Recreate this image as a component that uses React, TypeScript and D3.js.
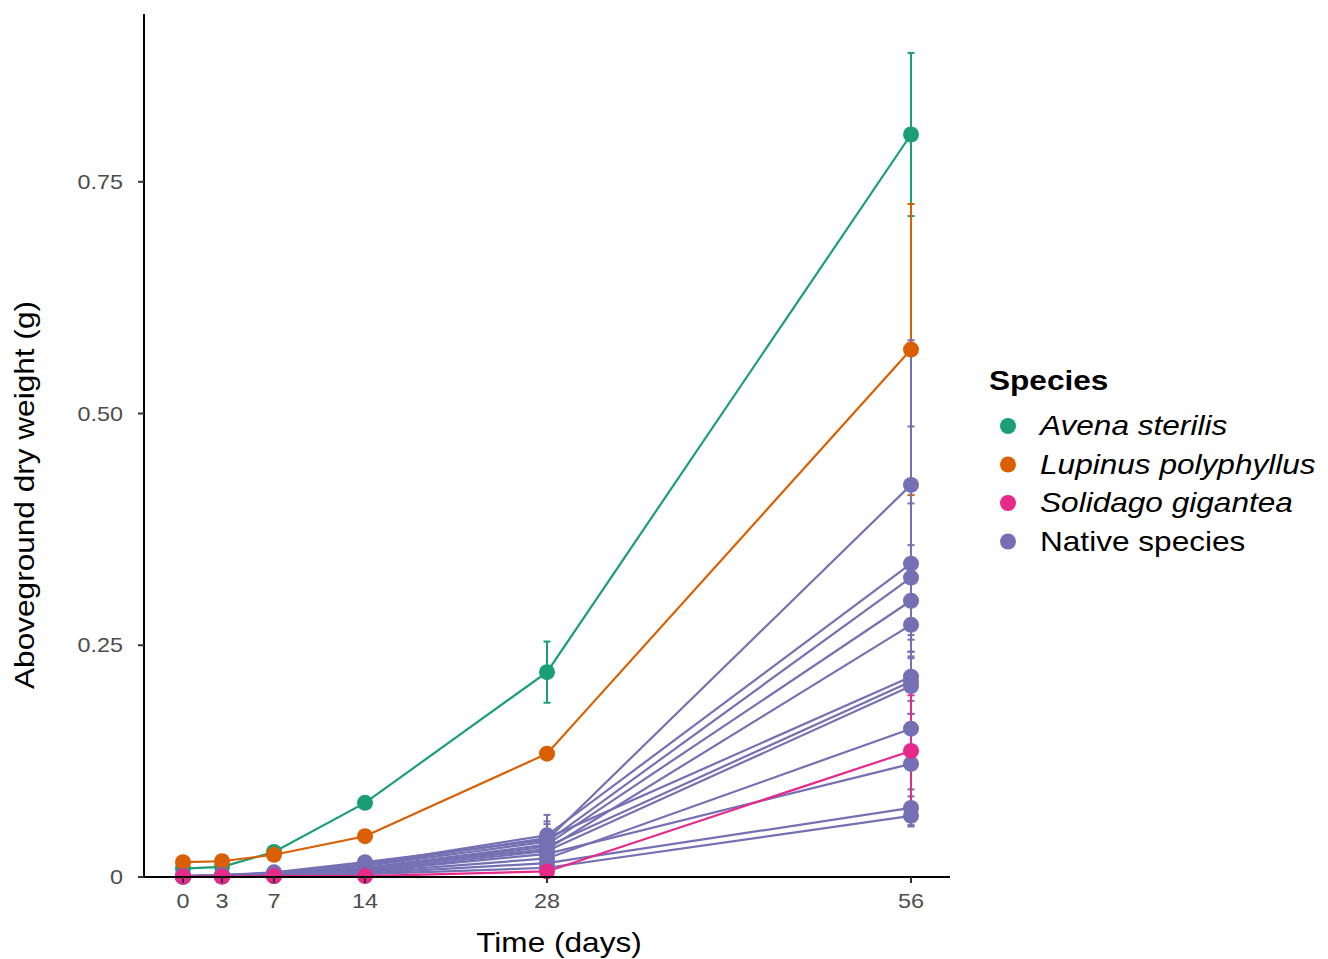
import React, { useEffect } from "react";
import * as d3 from "d3";

const days = [0, 3, 7, 14, 28, 56];
const yTicks = [0, 0.25, 0.5, 0.75];
const yTickLabels = ["0", "0.25", "0.50", "0.75"];

const avena = [0.009, 0.011, 0.027, 0.08, 0.221, 0.801];
const avenaSe = [0.001, 0.001, 0.002, 0.004, 0.033, 0.088];
const lupinus = [0.016, 0.017, 0.024, 0.044, 0.133, 0.569];
const lupinusSe = [0.001, 0.001, 0.002, 0.003, 0.006, 0.157];
const solidago = [0.0005, 0.0005, 0.001, 0.001, 0.006, 0.136];
const solidagoSe = [0.0002, 0.0002, 0.0003, 0.0004, 0.002, 0.06];

// native species: one row per species, values for each day
const native = [
  [0.001, 0.002, 0.005, 0.016, 0.04, 0.423],
  [0.001, 0.002, 0.004, 0.014, 0.045, 0.338],
  [0.001, 0.001, 0.004, 0.012, 0.038, 0.323],
  [0.001, 0.001, 0.003, 0.01, 0.035, 0.298],
  [0.001, 0.001, 0.003, 0.009, 0.03, 0.272],
  [0.001, 0.002, 0.004, 0.013, 0.042, 0.216],
  [0.0005, 0.001, 0.002, 0.008, 0.033, 0.211],
  [0.0005, 0.001, 0.002, 0.007, 0.028, 0.206],
  [0.0005, 0.001, 0.002, 0.005, 0.02, 0.16],
  [0.0005, 0.001, 0.002, 0.006, 0.025, 0.122],
  [0.0003, 0.0005, 0.001, 0.004, 0.015, 0.0745],
  [0.0003, 0.0005, 0.001, 0.003, 0.01, 0.066],
];
const nativeSe = [
  [0, 0.0003, 0.001, 0.002, 0.02, 0.156],
  [0, 0.0003, 0.001, 0.002, 0.022, 0.148],
  [0, 0.0003, 0.001, 0.002, 0.012, 0.08],
  [0, 0.0003, 0.001, 0.002, 0.01, 0.06],
  [0, 0.0003, 0.001, 0.002, 0.008, 0.029],
  [0, 0.0003, 0.001, 0.002, 0.015, 0.04],
  [0, 0.0003, 0.001, 0.002, 0.008, 0.05],
  [0, 0.0003, 0.001, 0.002, 0.006, 0.03],
  [0, 0.0003, 0.001, 0.001, 0.005, 0.04],
  [0, 0.0003, 0.001, 0.001, 0.006, 0.035],
  [0, 0.0003, 0.001, 0.001, 0.004, 0.02],
  [0, 0.0003, 0.001, 0.001, 0.003, 0.01],
];

const legendNames = ["Avena sterilis", "Lupinus polyphyllus", "Solidago gigantea", "Native species"];
const legendColors = ["#1B9E77", "#D95F02", "#E7298A", "#7570B3"];

type Series = { values: number[]; se: number[]; color: string };

const SX = 1.17; // text in the reference is a bit wider than Liberation Sans

export default function App() {
  useEffect(() => {
    document.body.style.margin = "0";
  }, []);

  const width = 1328;
  const height = 959;
  const x = d3.scaleLinear().domain([-3, 59]).range([144, 950]);
  const y = d3.scaleLinear().domain([0, 0.931]).range([877, 14]);
  const line = d3
    .line<number>()
    .x((_, i) => x(days[i]))
    .y((d) => y(d));

  const series: Series[] = [
    { values: avena, se: avenaSe, color: legendColors[0] },
    { values: lupinus, se: lupinusSe, color: legendColors[1] },
    ...native.map((v, i) => ({ values: v, se: nativeSe[i], color: legendColors[3] })),
    { values: solidago, se: solidagoSe, color: legendColors[2] },
  ];

  const font = "Liberation Sans, Arial, sans-serif";

  return (
    <svg width={width} height={height} style={{ display: "block", background: "#fff" }} fontFamily={font}>
      {/* lines */}
      {series.map((s, k) => (
        <path key={"l" + k} d={line(s.values) || ""} fill="none" stroke={s.color} strokeWidth={2.2} />
      ))}
      {/* error bars */}
      {series.map((s, k) => (
        <g key={"e" + k} stroke={s.color} strokeWidth={2}>
          {s.values.map((v, i) => {
            const cx = x(days[i]);
            const y1 = y(v + s.se[i]);
            const y2 = y(Math.max(0, v - s.se[i]));
            return (
              <g key={i}>
                <line x1={cx} x2={cx} y1={y1} y2={y2} />
                <line x1={cx - 3.5} x2={cx + 3.5} y1={y1} y2={y1} />
                <line x1={cx - 3.5} x2={cx + 3.5} y1={y2} y2={y2} />
              </g>
            );
          })}
        </g>
      ))}
      {/* points */}
      {series.map((s, k) => (
        <g key={"p" + k} fill={s.color}>
          {s.values.map((v, i) => (
            <circle key={i} cx={x(days[i])} cy={y(v)} r={8} />
          ))}
        </g>
      ))}

      {/* axes */}
      <line x1={144} x2={144} y1={14} y2={878} stroke="#000" strokeWidth={2} />
      <line x1={143} x2={950} y1={877} y2={877} stroke="#000" strokeWidth={2} />
      {yTicks.map((t, i) => (
        <g key={"yt" + i}>
          <line x1={138} x2={144} y1={y(t)} y2={y(t)} stroke="#333" strokeWidth={2} />
          <g transform={`translate(123,${y(t)}) scale(${SX},1)`}>
            <text dy="0.35em" textAnchor="end" fontSize={20} fill="#4D4D4D">
              {yTickLabels[i]}
            </text>
          </g>
        </g>
      ))}
      {days.map((d) => (
        <g key={"xt" + d}>
          <line x1={x(d)} x2={x(d)} y1={877} y2={883} stroke="#333" strokeWidth={2} />
          <g transform={`translate(${x(d)},908) scale(${SX},1)`}>
            <text textAnchor="middle" fontSize={20} fill="#4D4D4D">
              {d}
            </text>
          </g>
        </g>
      ))}
      <g transform={`translate(559,952) scale(${SX},1)`}>
        <text textAnchor="middle" fontSize={27} fill="#000">
          Time (days)
        </text>
      </g>
      <g transform={`translate(34,495) rotate(-90) scale(${SX},1)`}>
        <text textAnchor="middle" fontSize={27} fill="#000">
          Aboveground dry weight (g)
        </text>
      </g>

      {/* legend */}
      <g transform={`translate(989,390) scale(${SX},1)`}>
        <text fontSize={27} fontWeight="bold" fill="#000">
          Species
        </text>
      </g>
      {legendNames.map((n, i) => (
        <g key={n} transform={`translate(0,${426 + i * 38.5})`}>
          <circle cx={1008} cy={0} r={8} fill={legendColors[i]} />
          <g transform={`translate(1040,0) scale(${SX},1)`}>
            <text dy="0.35em" fontSize={27} fontStyle={i < 3 ? "italic" : "normal"} fill="#000">
              {n}
            </text>
          </g>
        </g>
      ))}
    </svg>
  );
}
